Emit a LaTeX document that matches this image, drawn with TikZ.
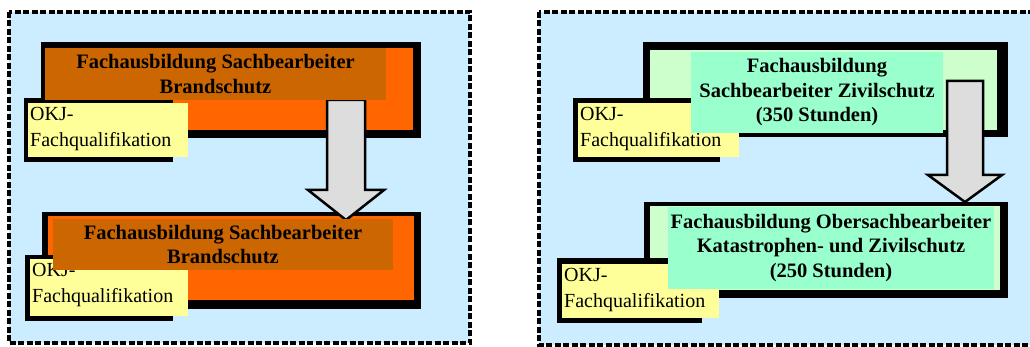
\documentclass[tikz,border=0pt]{standalone}
\usepackage{fontspec}
\setmainfont{Liberation Serif}
\definecolor{panelbg}{RGB}{204,236,255}
\definecolor{fireor}{RGB}{255,102,0}
\definecolor{firedk}{RGB}{204,102,0}
\definecolor{okjyel}{RGB}{255,255,153}
\definecolor{civlt}{RGB}{204,255,204}
\definecolor{civaq}{RGB}{153,255,204}
\definecolor{arrgray}{RGB}{221,221,221}
\tikzset{
  panel/.style={fill=panelbg, draw=black, line width=3.5pt, dash pattern=on 6pt off 2.5pt},
  shadowbox/.style={fill=black},
  titlebox/.style={inner sep=0pt, align=center, font=\fontsize{20.5}{24.5}\selectfont\bfseries},
  okjtext/.style={inner sep=0pt, align=left, anchor=north west, font=\fontsize{20}{26}\selectfont},
  blockarrow/.style={fill=arrgray, draw=black, line width=2.5pt, line join=miter}
}
\begin{document}
\begin{tikzpicture}[x=1pt,y=-1pt]
\useasboundingbox (0,0) rectangle (1030,347);
% panels
\path[panel] (9,12) rectangle (470,343);
\path[panel] (539,12) rectangle (1040,345);

% ---------- left panel ----------
\fill[shadowbox] (41,42) rectangle (421,138);
\fill[fireor] (45,48) rectangle (413,130);
\fill[shadowbox] (42,212) rectangle (421,309);
\fill[fireor] (48,216) rectangle (414,300);
% arrow
\path[blockarrow] (327,100) -- (365,100) -- (365,190) -- (384,190) -- (346,220) -- (308,190) -- (327,190) -- cycle;
% OKJ boxes
\fill[shadowbox] (24,98) rectangle (173,162);
\fill[okjyel] (28,103) rectangle (188,157);
\node[okjtext] (okj1) at (30,107) {OKJ-\\Fachqualifikation};
\fill[shadowbox] (25,255) rectangle (173,321);
\fill[okjyel] (30,259) rectangle (188,316);
\node[okjtext] (okj2) at (32,263) {OKJ-\\Fachqualifikation};
% titles
\node[titlebox, fill=firedk, minimum width=341pt, minimum height=52pt] (t1) at (215.5,74) {Fachausbildung Sachbearbeiter\\Brandschutz};
\node[titlebox, fill=firedk, minimum width=340pt, minimum height=51pt] (t2) at (223,244.5) {Fachausbildung Sachbearbeiter\\Brandschutz};

% ---------- right panel ----------
\fill[shadowbox] (643,42) rectangle (1008,137);
\fill[civlt] (650,50) rectangle (997,130);
\fill[shadowbox] (644,202) rectangle (1008,298);
\fill[civlt] (650,206) rectangle (1000,290);
% arrow
\path[blockarrow] (947,81) -- (983,81) -- (983,175) -- (1002,175) -- (965,202) -- (928,175) -- (947,175) -- cycle;
% OKJ boxes
\fill[shadowbox] (573,98) rectangle (720,162);
\fill[okjyel] (578,103) rectangle (739,157);
\node[okjtext] (okj3) at (580,107) {OKJ-\\Fachqualifikation};
\fill[shadowbox] (557,258) rectangle (702,323);
\fill[okjyel] (562,264) rectangle (719,318);
\node[okjtext] (okj4) at (564,268) {OKJ-\\Fachqualifikation};
% titles
\node[titlebox, fill=civaq, minimum width=252pt, minimum height=81pt] (t3) at (817,92.5) {Fachausbildung\\Sachbearbeiter Zivilschutz\\(350 Stunden)};
\node[titlebox, fill=civaq, minimum width=326pt, minimum height=82pt] (t4) at (831,248) {Fachausbildung Obersachbearbeiter\\Katastrophen- und Zivilschutz\\(250 Stunden)};
\end{tikzpicture}
\end{document}
